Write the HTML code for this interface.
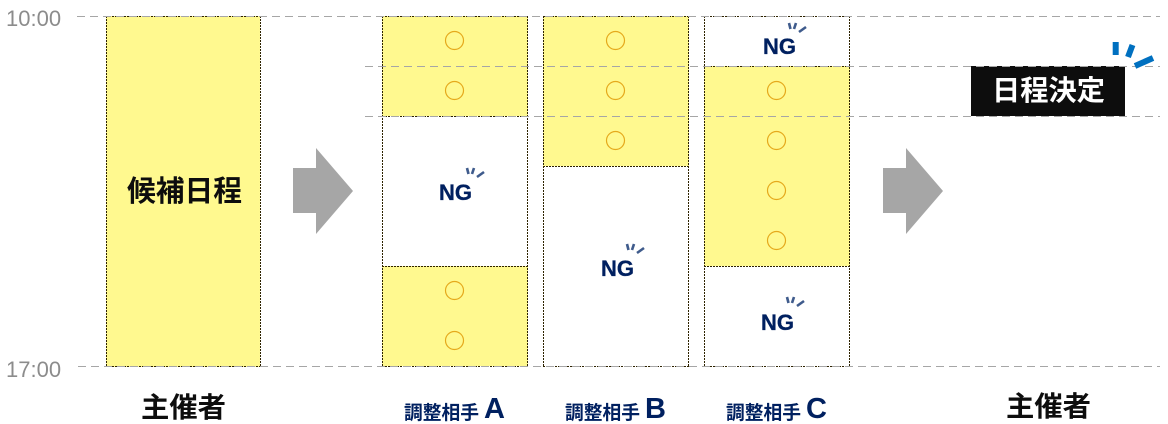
<!DOCTYPE html>
<html><head><meta charset="utf-8"><style>
html,body{margin:0;padding:0;background:#fff;width:1168px;height:424px;overflow:hidden}
svg{display:block}
text{font-family:"Liberation Sans","Noto Sans CJK JP",sans-serif}
.j{font-family:"Noto Sans CJK JP","Liberation Sans",sans-serif;font-weight:700}
.c{fill:none;stroke:#e5a91c;stroke-width:1.2}
.b{stroke:#2e2300;stroke-width:1;stroke-dasharray:2 1;shape-rendering:crispEdges}
.y{fill:#fff98f}
.w{fill:#fff}
.d{stroke:#a6a6a6;stroke-width:1;stroke-dasharray:8 5;fill:none;shape-rendering:crispEdges}
.ng{fill:#002060;font-size:22px;font-weight:700;font-family:"Liberation Sans",sans-serif;stroke:#002060;stroke-width:.3}
.t{stroke:#3f5b8c;stroke-width:2.6;fill:none}
.lb{fill:#0d0d0d;font-size:28px}
.la{fill:#002060;font-size:19px}
.lc{fill:#002060;font-size:29px;font-weight:700;font-family:"Liberation Sans",sans-serif}
</style></head><body>
<svg width="1168" height="424" viewBox="0 0 1168 424" xmlns="http://www.w3.org/2000/svg">
<rect class="y" x="106" y="16" width="154" height="351"/>
<rect class="w" x="382" y="16" width="146" height="351"/>
<rect class="w" x="543" y="16" width="146" height="351"/>
<rect class="w" x="704" y="16" width="146" height="351"/>
<rect class="y" x="382" y="16" width="146" height="100"/>
<rect class="y" x="382" y="266" width="146" height="100"/>
<rect class="y" x="543" y="16" width="146" height="150"/>
<rect class="y" x="704" y="66" width="146" height="200"/>
<g class="b" fill="none">
<path d="M106.5 16V367M260.5 16V367M382.5 16V367M527.5 16V367M543.5 16V367M688.5 16V367M704.5 16V367M849.5 16V367"/>
<path d="M106 16.5H261M106 366.5H261M382 16.5H528M382 366.5H528M543 16.5H689M543 366.5H689M704 16.5H850M704 366.5H850"/>
<path d="M382 116.5H528M382 266.5H528M543 166.5H689M704 66.5H850M704 266.5H850"/>
</g>
<rect x="971" y="66" width="154" height="50" fill="#0d0d0d"/>
<path class="d" d="M77 16.5H1160M365 66.5H1160M365 116.5H1160M78 366.5H1160"/>
<g class="c">
<circle cx="454.5" cy="40.5" r="9"/><circle cx="454.5" cy="90.5" r="9"/>
<circle cx="454.5" cy="290.5" r="9"/><circle cx="454.5" cy="340.5" r="9"/>
<circle cx="615.5" cy="40.5" r="9"/><circle cx="615.5" cy="90.5" r="9"/><circle cx="615.5" cy="140.5" r="9"/>
<circle cx="776.5" cy="90.5" r="9"/><circle cx="776.5" cy="140.5" r="9"/><circle cx="776.5" cy="190.5" r="9"/><circle cx="776.5" cy="240.5" r="9"/>
</g>
<polygon points="293,168 316,168 316,148 353,191 316,234 316,213 293,213" fill="#a6a6a6"/>
<polygon points="883,168 906,168 906,148 943,191 906,234 906,213 883,213" fill="#a6a6a6"/>
<text x="6" y="26" font-size="22" fill="#8c8c8c">10:00</text>
<text x="6" y="377" font-size="22" fill="#8c8c8c">17:00</text>
<text class="j" x="127" y="201" font-size="29" fill="#0d0d0d" textLength="115" lengthAdjust="spacingAndGlyphs">候補日程</text>
<text class="j" x="992" y="100" font-size="28" fill="#fff" textLength="113" lengthAdjust="spacingAndGlyphs">日程決定</text>
<g><text class="ng" x="439" y="200">NG</text><path class="t" d="M467 168l1.5 6M474 168l-2 6M484 172l-7 5"/></g>
<g transform="translate(162,76)"><text class="ng" x="439" y="200">NG</text><path class="t" transform="translate(-2,0)" d="M467 168l1.5 6M474 168l-2 6M484 172l-7 5"/></g>
<g transform="translate(324,-146)"><text class="ng" x="439" y="200">NG</text><path class="t" transform="translate(-2,1)" d="M467 168l1.5 6M474 168l-2 6M484 172l-7 5"/></g>
<g transform="translate(322,130)"><text class="ng" x="439" y="200">NG</text><path class="t" transform="translate(-2,-1)" d="M467 168l1.5 6M474 168l-2 6M484 172l-7 5"/></g>
<path d="M1115.7 42V55M1132.5 45L1128 57M1153 58L1135 66" stroke="#0070c0" stroke-width="6" fill="none"/>
<text class="j lb" x="141" y="417" textLength="85" lengthAdjust="spacingAndGlyphs">主催者</text>
<text class="j lb" x="1006" y="416" textLength="85" lengthAdjust="spacingAndGlyphs">主催者</text>
<text class="j la" x="404" y="419" textLength="75" lengthAdjust="spacingAndGlyphs">調整相手</text><text class="lc" x="484" y="418">A</text>
<text class="j la" x="565" y="419" textLength="75" lengthAdjust="spacingAndGlyphs">調整相手</text><text class="lc" x="645" y="418">B</text>
<text class="j la" x="726" y="419" textLength="75" lengthAdjust="spacingAndGlyphs">調整相手</text><text class="lc" x="806" y="418">C</text>
</svg>
</body></html>
